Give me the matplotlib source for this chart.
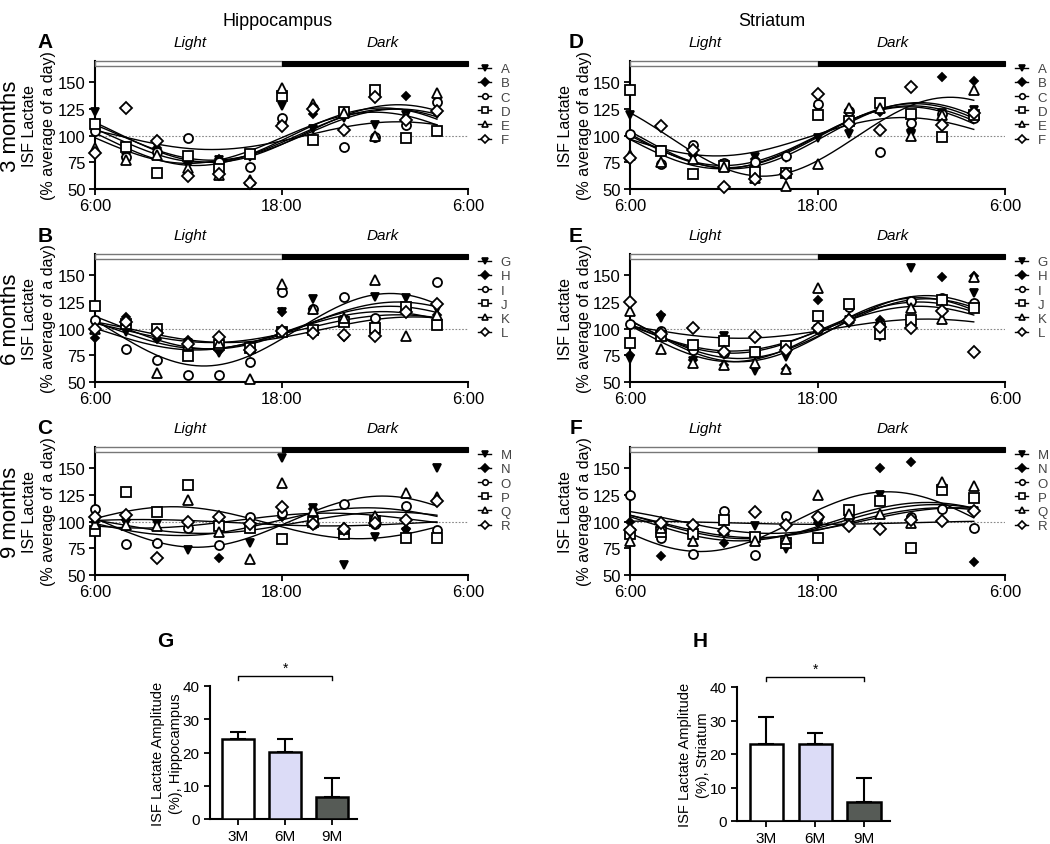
import matplotlib
matplotlib.use("Agg")
import matplotlib.pyplot as plt
import numpy as np
from matplotlib.lines import Line2D
from matplotlib.patches import Rectangle

plt.rcParams['font.family'] = ['Liberation Sans', 'DejaVu Sans']

# sampling times, hours after 6:00
hours = [0, 2, 4, 6, 8, 10, 12, 14, 16, 18, 20, 22]

# Hippocampus, 3 months (animals A-F)
hip_3m_names = ['A', 'B', 'C', 'D', 'E', 'F']
hip_3m = [
    [122, 80, 90, 75, 77, 80, 128, 106, 117, 110, 119, 120],
    [108, 80, 88, 74, 78, 82, 112, 120, 120, 98, 137, 121],
    [104, 80, 85, 98, 75, 71, 117, 126, 89, 99, 110, 132],
    [111, 89, 65, 81, 69, 83, 137, 96, 122, 143, 98, 104],
    [88, 77, 82, 70, 63, 58, 145, 130, 121, 100, 118, 140],
    [84, 126, 95, 62, 64, 56, 109, 125, 105, 136, 115, 123],
]
hip_3m_mesor = [101, 100, 99, 100, 102, 98]
hip_3m_amp = [24, 25, 27, 13, 27, 24]
hip_3m_peak = [19.5, 19, 18.5, 19.5, 19.5, 18]

# Hippocampus, 6 months (animals G-L)
hip_6m_names = ['G', 'H', 'I', 'J', 'K', 'L']
hip_6m = [
    [103, 97, 92, 87, 77, 79, 116, 128, 108, 130, 129, 118],
    [91, 111, 90, 89, 79, 79, 116, 118, 92, 104, 117, 113],
    [108, 81, 71, 57, 57, 69, 134, 118, 130, 110, 118, 144],
    [121, 104, 100, 74, 85, 82, 97, 99, 106, 101, 120, 103],
    [100, 108, 58, 85, 87, 53, 142, 118, 110, 146, 93, 113],
    [100, 106, 96, 86, 92, 80, 98, 96, 94, 93, 116, 123],
]
hip_6m_mesor = [99, 103, 101, 100, 99, 98]
hip_6m_amp = [34, 22, 20, 13, 12, 18]
hip_6m_peak = [19, 19.5, 19, 19.5, 20.5, 18.5]

# Hippocampus, 9 months (animals M-R)
hip_9m_names = ['M', 'N', 'O', 'P', 'Q', 'R']
hip_9m = [
    [100, 99, 98, 73, 93, 80, 160, 113, 59, 86, 90, 150],
    [100, 102, 80, 99, 66, 97, 104, 112, 95, 104, 93, 87],
    [112, 79, 80, 94, 78, 104, 108, 98, 117, 98, 115, 92],
    [91, 128, 109, 134, 96, 94, 84, 100, 88, 101, 85, 85],
    [98, 97, 96, 120, 90, 65, 136, 110, 93, 105, 127, 123],
    [104, 106, 66, 100, 104, 98, 114, 98, 93, 99, 102, 119],
]
hip_9m_mesor = [99, 100, 100, 99, 99, 101]
hip_9m_amp = [15, 24, 13, 3, 10, 7]
hip_9m_peak = [5, 18.5, 17.5, 3, 19, 15]

# Striatum, 3 months
str_3m = [
    [119, 87, 80, 73, 80, 79, 98, 102, 128, 101, 121, 124],
    [100, 85, 82, 72, 78, 80, 128, 124, 122, 105, 155, 151],
    [102, 73, 91, 74, 75, 81, 130, 123, 85, 112, 120, 117],
    [143, 86, 64, 72, 66, 65, 119, 114, 131, 120, 99, 119],
    [82, 75, 78, 71, 60, 53, 73, 126, 126, 100, 119, 143],
    [79, 109, 87, 52, 59, 64, 139, 111, 105, 146, 110, 121],
]
str_3m_mesor = [99, 100, 100, 99, 100, 98]
str_3m_amp = [37, 31, 28, 18, 30, 29]
str_3m_peak = [20.5, 18.5, 18, 17.5, 18.2, 17.8]

# Striatum, 6 months
str_6m = [
    [72, 110, 70, 93, 60, 73, 100, 108, 92, 157, 125, 133],
    [75, 113, 71, 66, 78, 62, 127, 105, 108, 125, 148, 149],
    [104, 98, 80, 77, 79, 80, 100, 120, 104, 126, 129, 124],
    [87, 93, 85, 88, 78, 84, 112, 123, 95, 108, 127, 119],
    [117, 81, 68, 66, 68, 62, 138, 110, 105, 119, 109, 148],
    [125, 95, 101, 78, 92, 80, 101, 108, 102, 101, 117, 78],
]
str_6m_mesor = [100, 100, 101, 100, 99, 100]
str_6m_amp = [31, 28, 24, 21, 30, 9]
str_6m_peak = [19, 19, 18.5, 18.5, 18.5, 19]

# Striatum, 9 months
str_9m = [
    [90, 92, 94, 90, 96, 74, 98, 104, 125, 102, 132, 110],
    [100, 68, 95, 80, 82, 77, 99, 106, 150, 156, 101, 62],
    [125, 85, 70, 110, 69, 105, 104, 104, 121, 104, 112, 94],
    [88, 90, 88, 102, 86, 80, 85, 111, 119, 75, 130, 122],
    [82, 94, 82, 92, 82, 84, 125, 107, 107, 99, 137, 133],
    [92, 99, 97, 91, 109, 97, 104, 96, 93, 102, 101, 110],
]
str_9m_mesor = [100, 99, 100, 99, 100, 101]
str_9m_amp = [28, 1.5, 16, 14, 18, 12]
str_9m_peak = [16.5, 0, 19.5, 20, 19, 21]

# amplitude summary
ages = ['3M', '6M', '9M']
hip_amp_mean = [24, 20.2, 6.7]
hip_amp_err = [2.3, 4.0, 5.6]
str_amp_mean = [23, 23, 5.7]
str_amp_err = [8, 3.3, 7.2]
bar_colors = ['white', '#dcdcf7', '#565b56']

markers = ['v', 'D', 'o', 's', '^', 'D']
filled = [True, True, False, False, False, False]
msizes = [6, 4.5, 6.5, 6.5, 6.5, 6.5]

W, H = 1050, 845
fig = plt.figure(figsize=(10.5, 8.45), dpi=100)


def rect(x0, y0, x1, y1):
    return [x0 / W, 1 - y1 / H, (x1 - x0) / W, (y1 - y0) / H]


def ftext(x, y, s, **kw):
    fig.text(x / W, 1 - y / H, s, **kw)


def time_panel(ax, values, mesor, amp, peak, names):
    t = np.linspace(0, 22, 200)
    for m, a, p in zip(mesor, amp, peak):
        ax.plot(t, m + a * np.cos(2 * np.pi * (t - p) / 24), color='black',
                lw=1.0, zorder=2)
    for i, row in enumerate(values):
        ax.plot(hours, row, ls='none', marker=markers[i], ms=msizes[i],
                mfc='black' if filled[i] else 'white', mec='black', mew=1.3,
                zorder=3, clip_on=False)
    ax.axhline(100, color='#888888', lw=0.8, ls=(0, (1.5, 1.5)), zorder=1)
    ax.add_patch(Rectangle((0, 165.5), 12, 4.5, facecolor='white',
                           edgecolor='#777777', lw=1, clip_on=False, zorder=4))
    ax.add_patch(Rectangle((12, 165.2), 12, 4.8, facecolor='black',
                           edgecolor='black', lw=0.8, clip_on=False, zorder=4))
    ax.set_xlim(0, 24)
    ax.set_ylim(50, 170)
    ax.set_xticks([0, 12, 24])
    ax.set_xticklabels(['6:00', '18:00', '6:00'])
    ax.set_yticks([50, 75, 100, 125, 150])
    ax.tick_params(labelsize=12, width=1.3, length=4, pad=2.5)
    for s in ['top', 'right']:
        ax.spines[s].set_visible(False)
    for s in ['left', 'bottom']:
        ax.spines[s].set_linewidth(1.5)
    handles = [Line2D([0], [0], color='black', lw=1, marker=markers[i], ms=4,
                      mfc='black' if filled[i] else 'white', mec='black', mew=1.2)
               for i in range(6)]
    leg = ax.legend(handles, names, loc='upper left', bbox_to_anchor=(1.027, 0.985),
                    frameon=False, fontsize=9.5, handlelength=1.0, handletextpad=0.7,
                    labelspacing=0.15, borderpad=0, borderaxespad=0)
    for txt in leg.get_texts():
        txt.set_color('#444444')


rows_y = [(62, 190), (255, 383), (448, 576)]
cols_x = [(95, 468), (630, 1005)]
panels = [
    [(hip_3m, hip_3m_mesor, hip_3m_amp, hip_3m_peak, hip_3m_names, 'A'),
     (str_3m, str_3m_mesor, str_3m_amp, str_3m_peak, hip_3m_names, 'D')],
    [(hip_6m, hip_6m_mesor, hip_6m_amp, hip_6m_peak, hip_6m_names, 'B'),
     (str_6m, str_6m_mesor, str_6m_amp, str_6m_peak, hip_6m_names, 'E')],
    [(hip_9m, hip_9m_mesor, hip_9m_amp, hip_9m_peak, hip_9m_names, 'C'),
     (str_9m, str_9m_mesor, str_9m_amp, str_9m_peak, hip_9m_names, 'F')],
]
ages_text = ['3 months', '6 months', '9 months']
letter_x = [45, 576]
light_x = [(190, 383), (705, 893)]

for r, (y0, y1) in enumerate(rows_y):
    for c, (x0, x1) in enumerate(cols_x):
        vals, mes, amp, pk, names, letter = panels[r][c]
        ax = fig.add_axes(rect(x0, y0, x1, y1))
        time_panel(ax, vals, mes, amp, pk, names)
        ty = y0 - 19
        ftext(letter_x[c], ty, letter, fontsize=15, fontweight='bold',
              ha='center', va='center')
        ftext(light_x[c][0], ty, 'Light', fontsize=11, style='italic',
              ha='center', va='center')
        ftext(light_x[c][1], ty, 'Dark', fontsize=11, style='italic',
              ha='center', va='center')
        yc = (y0 + y1) / 2
        ftext(x0 - 65, yc, 'ISF Lactate', fontsize=11.5, rotation=90,
              ha='center', va='center')
        ftext(x0 - 46, yc, '(% average of a day)', fontsize=11.5, rotation=90,
              ha='center', va='center')
    ftext(11, (y0 + y1) / 2, ages_text[r], fontsize=16, rotation=90,
          ha='center', va='center')

ftext(278, 22, 'Hippocampus', fontsize=13, ha='center', va='center')
ftext(772, 22, 'Striatum', fontsize=13, ha='center', va='center')

# amplitude bar charts
bar_specs = [
    ((210, 687, 357, 820), hip_amp_mean, hip_amp_err, 'G', 165,
     'ISF Lactate Amplitude\n(%), Hippocampus', 167),
    ((737, 688, 890, 822), str_amp_mean, str_amp_err, 'H', 700,
     'ISF Lactate Amplitude\n(%), Striatum', 694),
]
for (x0, y0, x1, y1), means, errs, letter, lx, ylab, ylx in bar_specs:
    ax = fig.add_axes(rect(x0, y0, x1, y1))
    xpos = np.arange(len(ages))
    ax.bar(xpos, means, width=0.68, color=bar_colors, edgecolor='black',
           lw=1.8, zorder=3)
    ax.errorbar(xpos, means, yerr=[[0] * len(errs), errs], fmt='none',
                ecolor='black', elinewidth=1.5, capsize=6, capthick=1.5, zorder=2)
    ax.set_xlim(-0.6, 2.53)
    ax.set_ylim(0, 40)
    ax.set_yticks([0, 10, 20, 30, 40])
    ax.set_xticks(xpos)
    ax.set_xticklabels(ages)
    ax.tick_params(labelsize=11, width=1.3, length=4)
    for s in ['top', 'right']:
        ax.spines[s].set_visible(False)
    for s in ['left', 'bottom']:
        ax.spines[s].set_linewidth(1.5)
    ax.plot([0, 0, 2, 2], [41.7, 43, 43, 41.7], color='black', lw=1,
            clip_on=False)
    ax.text(1, 45.5, '*', ha='center', va='center', fontsize=10)
    ftext(lx, 642, letter, fontsize=15, fontweight='bold', ha='center',
          va='center')
    ftext(ylx, (y0 + y1) / 2, ylab, fontsize=10.5, rotation=90, ha='center',
          va='center', linespacing=1.3, multialignment='center')

fig.savefig('out.png', dpi=100)
